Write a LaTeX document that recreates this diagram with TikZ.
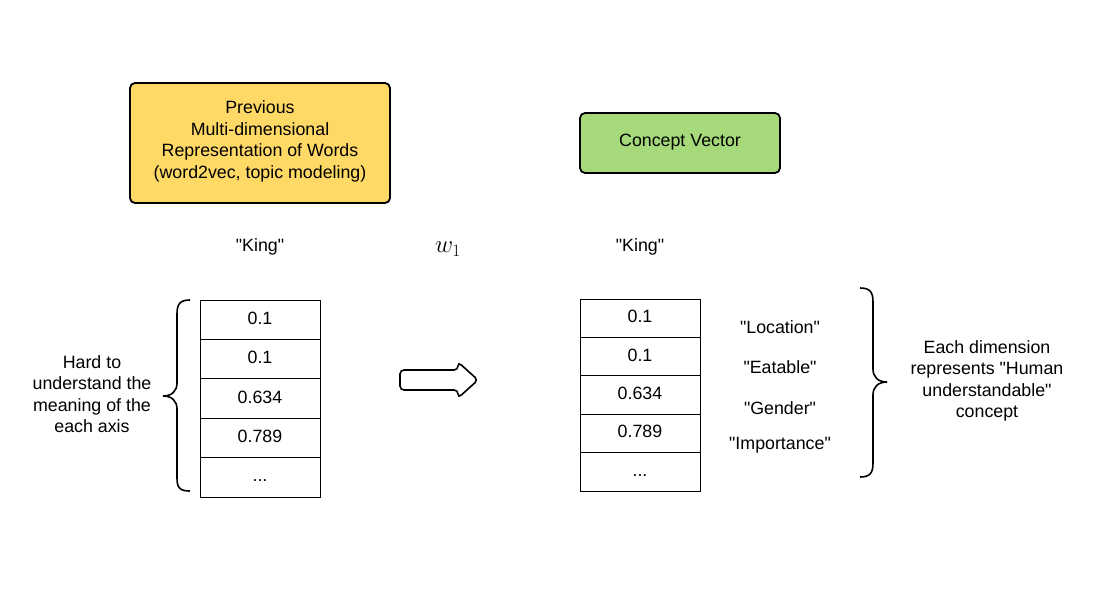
\documentclass[tikz,border=0pt]{standalone}
\usepackage{fontspec}
\setmainfont{Liberation Sans}
\newfontfamily\lib{Liberation Sans}
\def\mydots{...}
\begin{document}
\begin{tikzpicture}[x=1pt,y=-1pt,
  txt/.style={font=\lib\fontsize{17.8}{21.5}\selectfont, align=center, inner sep=0pt},
  hbox/.style={draw=black, line width=1.8pt, rounded corners=5pt},
  cell/.style={draw=black, line width=1pt, minimum width=120pt, txt, text height=13pt, text depth=4pt},
  brace/.style={draw=black, line width=1.6pt}
]
\useasboundingbox (0,0) rectangle (1103,592);
\definecolor{yel}{HTML}{FFD966}
\definecolor{grn}{HTML}{A5D97A}

\node[hbox, fill=yel, minimum width=260pt, minimum height=120pt] (prev) at (260,143) {};
\node[txt] (prevtxt) at (260,141.5)
  {Previous\\Multi-dimensional\\Representation of Words\\(word2vec, topic modeling)};
\node[hbox, fill=grn, minimum width=200pt, minimum height=60pt] (cv) at (680,143) {};
\node[txt] (cvtxt) at (680,142.5) {Concept Vector};

\node[txt] (kl) at (260,247) {"King"};
\node[txt] (w) at (448,249) {\fontsize{24}{26}\selectfont$w_1$};
\node[txt] (kr) at (640,247) {"King"};

% left table
\foreach \i/\t in {0/0.1,1/0.1,2/0.634,3/0.789,4/\mydots} {
  \node[cell, minimum height=39.4pt] (l\i) at (260,{319.7+39.4*\i}) {\t};
}
% right table
\foreach \i/\t in {0/0.1,1/0.1,2/0.634,3/0.789,4/\mydots} {
  \node[cell, minimum height=38.4pt] (r\i) at (640,{318.2+38.4*\i}) {\t};
}

\node[txt] (loc) at (780,327) {"Location"};
\node[txt] (eat) at (780,367) {"Eatable"};
\node[txt] (gen) at (780,408) {"Gender"};
\node[txt] (imp) at (780,445) {"Importance"};

\node[txt] (ltxt) at (92,394) {Hard to\\understand the\\meaning of the\\each axis};
\node[txt] (rtxt) at (987,381) {Each dimension\\represents "Human\\understandable"\\concept};

% left brace
\draw[brace] (190,300) .. controls (180,300) and (177,304) .. (177,314)
  -- (177,383) .. controls (177,391) and (172,396) .. (163,396)
  .. controls (172,396) and (177,401) .. (177,409)
  -- (177,478) .. controls (177,488) and (180,491) .. (190,491);
% right brace
\draw[brace] (860,288) .. controls (870,288) and (873,292) .. (873,302)
  -- (873,369) .. controls (873,377) and (878,382) .. (887,382)
  .. controls (878,382) and (873,387) .. (873,395)
  -- (873,463) .. controls (873,473) and (870,477) .. (860,477);

% block arrow
\draw[line width=1.6pt, rounded corners=4pt, fill=white]
  (400,370) -- (458,370) -- (458,362) -- (478,380) -- (458,398) -- (458,390) -- (400,390) -- cycle;
\end{tikzpicture}
\end{document}
